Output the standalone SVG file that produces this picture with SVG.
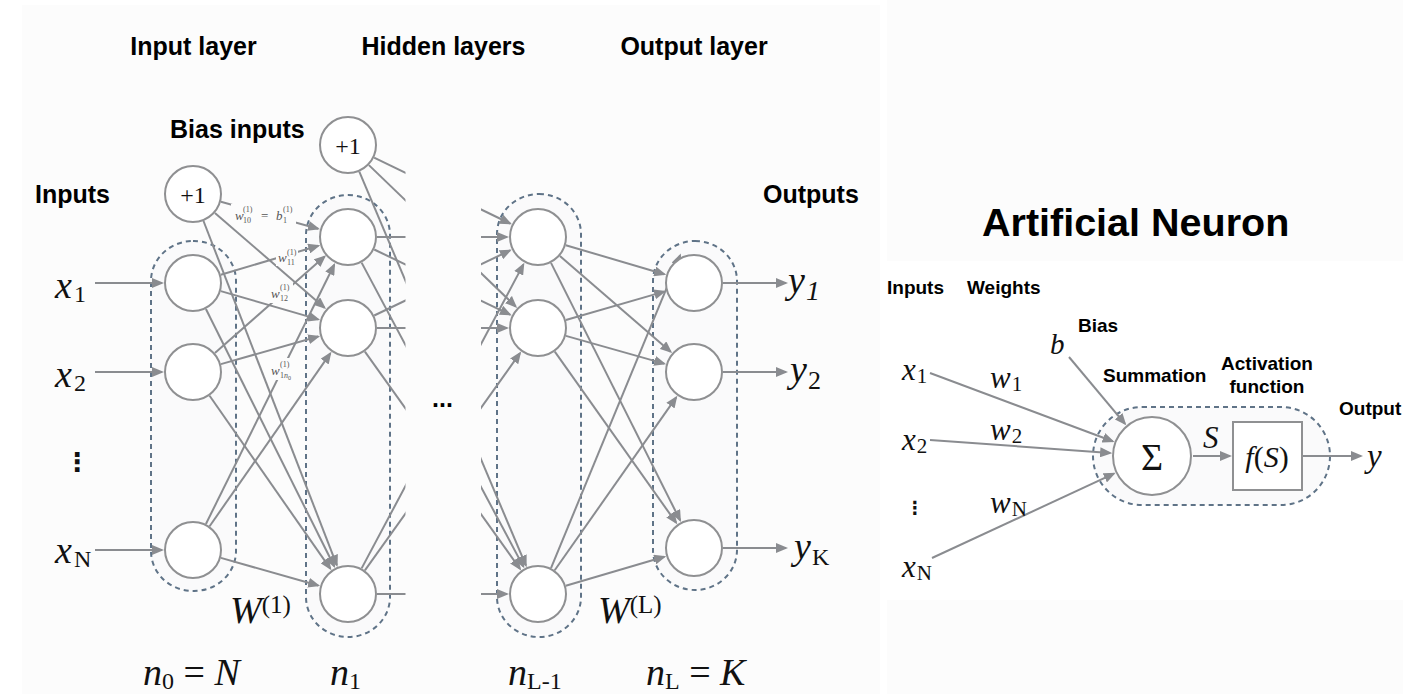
<svg xmlns="http://www.w3.org/2000/svg" width="1403" height="694" viewBox="0 0 1403 694">
  <style>
    .bg { fill: #fcfcfc; }
    .head { font-family: "Liberation Sans", Arial, sans-serif; font-weight: bold; fill: #000; }
    .math { font-family: "Liberation Serif", "Times New Roman", serif; fill: #111; }
    .it { font-style: italic; }
    .up { font-style: normal; }
    .wlab { font-family: "Liberation Serif", "Times New Roman", serif; fill: #555; }
    .edge { stroke: #8a8c90; stroke-width: 2; fill: none; }
    .arrow { marker-end: url(#arr); }
    .node { fill: #ffffff; stroke: #8f9092; stroke-width: 2; }
    .group { fill: #fafafb; stroke: #5f7387; stroke-width: 2; stroke-dasharray: 5 4; }
    .labbg { fill: #fcfcfc; }
  </style>
  <defs>
    <marker id="arr" viewBox="0 0 12 10" refX="10" refY="5" markerWidth="12" markerHeight="10" markerUnits="userSpaceOnUse" orient="auto">
      <path d="M0,0 L12,5 L0,10 z" fill="#8a8c90"/>
    </marker>
    <!-- hides the middle of the hidden-layer block (the elided layers) -->
    <clipPath id="gap">
      <rect x="0" y="0" width="405.5" height="694"/>
      <rect x="481" y="0" width="922" height="694"/>
    </clipPath>
  </defs>

  <!-- panel backgrounds -->
  <rect x="0" y="0" width="1403" height="694" fill="#ffffff"/>
  <rect class="bg" x="22" y="5" width="858" height="689"/>
  <rect class="bg" x="887" y="0" width="516" height="261"/>
  <rect class="bg" x="887" y="600" width="516" height="94"/>

  <!-- layer groupings (dashed capsules) -->
  <g id="layer-groups">
    <rect class="group" x="151" y="241" width="85" height="350" rx="42" ry="40"/>
    <rect class="group" x="306" y="195" width="84" height="442" rx="42" ry="40"/>
    <rect class="group" x="497" y="194" width="84" height="443" rx="42" ry="40"/>
    <rect class="group" x="653" y="241" width="84" height="349" rx="42" ry="40"/>
    <rect class="group" x="1093" y="407" width="237" height="98" rx="49" ry="49"/>
  </g>

  <!-- connectors -->
  <g id="connectors">
    <!-- inputs -> input layer -->
    <line class="edge arrow" x1="95" y1="283" x2="162" y2="283"/>
    <line class="edge arrow" x1="95" y1="372" x2="162" y2="372"/>
    <line class="edge arrow" x1="95" y1="550" x2="162" y2="550"/>

    <!-- input layer (+ bias) -> first hidden layer -->
    <line class="edge arrow" x1="220.9" y1="201.8" x2="318.1" y2="228.7"/>
    <line class="edge arrow" x1="214.9" y1="213.0" x2="324.5" y2="307.7"/>
    <line class="edge arrow" x1="203.5" y1="221.0" x2="336.8" y2="565.1"/>
    <line class="edge arrow" x1="220.8" y1="274.7" x2="318.3" y2="245.8"/>
    <line class="edge arrow" x1="220.8" y1="291.1" x2="318.2" y2="319.4"/>
    <line class="edge arrow" x1="205.9" y1="309.0" x2="334.2" y2="566.3"/>
    <line class="edge arrow" x1="214.9" y1="352.9" x2="324.6" y2="256.6"/>
    <line class="edge arrow" x1="220.9" y1="364.1" x2="318.2" y2="336.5"/>
    <line class="edge arrow" x1="209.6" y1="395.8" x2="330.3" y2="568.6"/>
    <line class="edge arrow" x1="205.9" y1="524.0" x2="334.2" y2="264.8"/>
    <line class="edge arrow" x1="209.6" y1="526.2" x2="330.3" y2="353.4"/>
    <line class="edge arrow" x1="220.9" y1="557.9" x2="318.2" y2="585.5"/>

    <!-- first hidden layer -> layer L-1 (middle cut away) -->
    <g clip-path="url(#gap)">
      <line class="edge arrow" x1="374.1" y1="157.6" x2="510.1" y2="223.5"/>
      <line class="edge arrow" x1="368.9" y1="165.1" x2="515.7" y2="306.5"/>
      <line class="edge arrow" x1="359.3" y1="171.7" x2="525.9" y2="565.4"/>
      <line class="edge arrow" x1="377" y1="237" x2="507" y2="237"/>
      <line class="edge arrow" x1="374.2" y1="249.5" x2="510.0" y2="314.6"/>
      <line class="edge arrow" x1="361.6" y1="262.6" x2="523.4" y2="566.6"/>
      <line class="edge arrow" x1="374.2" y1="315.5" x2="510.0" y2="250.4"/>
      <line class="edge arrow" x1="377" y1="328" x2="507" y2="328"/>
      <line class="edge arrow" x1="364.9" y1="351.6" x2="520.0" y2="568.8"/>
      <line class="edge arrow" x1="361.6" y1="568.4" x2="523.4" y2="264.4"/>
      <line class="edge arrow" x1="364.9" y1="570.4" x2="520.0" y2="353.2"/>
      <line class="edge arrow" x1="377" y1="594" x2="507" y2="594"/>
    </g>

    <!-- layer L-1 -> output layer -->
    <line class="edge arrow" x1="565.8" y1="245.2" x2="664.3" y2="274.2"/>
    <line class="edge arrow" x1="559.9" y1="256.0" x2="670.6" y2="351.7"/>
    <line class="edge arrow" x1="551.0" y1="262.9" x2="680.1" y2="520.3"/>
    <line class="edge arrow" x1="565.9" y1="320.0" x2="664.2" y2="291.6"/>
    <line class="edge arrow" x1="565.9" y1="335.9" x2="664.2" y2="363.6"/>
    <line class="edge arrow" x1="554.8" y1="351.7" x2="676.1" y2="522.7"/>
    <line class="edge arrow" x1="551.0" y1="568.1" x2="680.1" y2="255.3"/>
    <line class="edge arrow" x1="554.7" y1="570.3" x2="676.2" y2="397.4"/>
    <line class="edge arrow" x1="565.8" y1="585.8" x2="664.3" y2="556.8"/>

    <!-- output layer -> outputs -->
    <line class="edge arrow" x1="723" y1="283" x2="786" y2="283"/>
    <line class="edge arrow" x1="723" y1="372" x2="786" y2="372"/>
    <line class="edge arrow" x1="723" y1="548" x2="786" y2="548"/>

    <!-- single neuron -->
    <line class="edge arrow" x1="930" y1="373" x2="1112.7" y2="441.3"/>
    <line class="edge arrow" x1="930" y1="440" x2="1110.1" y2="453"/>
    <line class="edge arrow" x1="932" y1="558" x2="1113.9" y2="473.7"/>
    <line class="edge arrow" x1="1069" y1="357" x2="1125" y2="423.8"/>
    <line class="edge arrow" x1="1193" y1="456" x2="1230" y2="456"/>
    <line class="edge arrow" x1="1303" y1="456" x2="1361" y2="456"/>
  </g>

  <!-- weight labels (sit on their connectors) -->
  <g id="weight-labels">
    <rect class="labbg" x="231" y="204" width="65" height="21"/>
    <text class="wlab it" x="235" y="220" font-size="13">w</text>
    <text class="wlab" x="243" y="212" font-size="8">(1)</text>
    <text class="wlab" x="243" y="223" font-size="8">10</text>
    <text class="wlab" x="261" y="220" font-size="13">=</text>
    <text class="wlab it" x="276" y="220" font-size="13">b</text>
    <text class="wlab" x="283" y="212" font-size="8">(1)</text>
    <text class="wlab" x="283" y="223" font-size="8">1</text>

    <rect class="labbg" x="276" y="246" width="22" height="20"/>
    <text class="wlab it" x="278" y="262" font-size="13">w</text>
    <text class="wlab" x="287" y="255" font-size="8">(1)</text>
    <text class="wlab" x="287" y="265" font-size="8">11</text>

    <rect class="labbg" x="270" y="282" width="23" height="21"/>
    <text class="wlab it" x="271" y="298" font-size="13">w</text>
    <text class="wlab" x="280" y="290" font-size="8">(1)</text>
    <text class="wlab" x="280" y="301" font-size="8">12</text>

    <rect class="labbg" x="269" y="358" width="30" height="22"/>
    <text class="wlab it" x="271" y="375" font-size="13">w</text>
    <text class="wlab" x="280" y="367" font-size="8">(1)</text>
    <text class="wlab" x="280" y="378" font-size="8">1<tspan font-style="italic">n</tspan><tspan font-size="6" dy="1.5">0</tspan></text>
  </g>

  <!-- input layer -->
  <g id="bias-0">
    <circle class="node" cx="193" cy="194" r="28"/>
    <text class="math" x="193" y="203" font-size="24" text-anchor="middle">+1</text>
  </g>
  <g id="input-1"><circle class="node" cx="193" cy="283" r="28"/></g>
  <g id="input-2"><circle class="node" cx="193" cy="372" r="28"/></g>
  <g id="input-N"><circle class="node" cx="193" cy="550" r="28"/></g>

  <!-- first hidden layer -->
  <g id="bias-1">
    <circle class="node" cx="348" cy="145" r="28"/>
    <text class="math" x="348" y="154" font-size="24" text-anchor="middle">+1</text>
  </g>
  <g id="hidden1-1"><circle class="node" cx="348" cy="237" r="28"/></g>
  <g id="hidden1-2"><circle class="node" cx="348" cy="328" r="28"/></g>
  <g id="hidden1-3"><circle class="node" cx="348" cy="594" r="28"/></g>

  <!-- layer L-1 -->
  <g id="hiddenL-1"><circle class="node" cx="538" cy="237" r="28"/></g>
  <g id="hiddenL-2"><circle class="node" cx="538" cy="328" r="28"/></g>
  <g id="hiddenL-3"><circle class="node" cx="538" cy="594" r="28"/></g>

  <!-- output layer -->
  <g id="output-1"><circle class="node" cx="694" cy="283" r="28"/></g>
  <g id="output-2"><circle class="node" cx="694" cy="372" r="28"/></g>
  <g id="output-K"><circle class="node" cx="694" cy="548" r="28"/></g>

  <!-- single neuron -->
  <g id="summation">
    <circle class="node" cx="1152" cy="456" r="39"/>
    <text class="math" x="1152" y="470" font-size="38" text-anchor="middle">Σ</text>
  </g>
  <g id="activation">
    <rect class="node" x="1233" y="422" width="69" height="68"/>
    <text class="math" x="1267" y="467" font-size="30" text-anchor="middle"><tspan class="it">f</tspan>(<tspan class="it">S</tspan>)</text>
  </g>

  <!-- headings -->
  <g id="headings">
    <text class="head" x="193.5" y="55" font-size="25" text-anchor="middle">Input layer</text>
    <text class="head" x="443.5" y="55" font-size="25" text-anchor="middle">Hidden layers</text>
    <text class="head" x="694" y="55" font-size="25" text-anchor="middle">Output layer</text>
    <text class="head" x="170" y="138" font-size="25">Bias inputs</text>
    <text class="head" x="35" y="203" font-size="25">Inputs</text>
    <text class="head" x="763" y="203" font-size="25">Outputs</text>
    <text class="head" x="432" y="407" font-size="25">...</text>

    <text class="head" x="982" y="236" font-size="39.5">Artificial Neuron</text>
    <text class="head" x="887" y="294" font-size="19">Inputs</text>
    <text class="head" x="967" y="294" font-size="19">Weights</text>
    <text class="head" x="1078" y="332" font-size="19">Bias</text>
    <text class="head" x="1103" y="382" font-size="19">Summation</text>
    <text class="head" x="1267" y="370" font-size="19" text-anchor="middle">Activation</text>
    <text class="head" x="1267" y="393" font-size="19" text-anchor="middle">function</text>
    <text class="head" x="1339" y="415" font-size="19">Output</text>
  </g>

  <!-- network symbols -->
  <g id="symbols">
    <text class="math it" x="55" y="298" font-size="38">x<tspan class="up" font-size="24" dx="2" dy="4">1</tspan></text>
    <text class="math it" x="55" y="387" font-size="38">x<tspan class="up" font-size="24" dx="2" dy="4">2</tspan></text>
    <text class="math it" x="55" y="563" font-size="38">x<tspan class="up" font-size="24" dx="2" dy="4">N</tspan></text>
    <text x="77" y="471" font-size="26" font-weight="bold" font-family="DejaVu Sans, sans-serif" text-anchor="middle" fill="#111">⋮</text>

    <text class="math it" x="788" y="293" font-size="38">y<tspan font-size="28" dx="1" dy="7">1</tspan></text>
    <text class="math it" x="790" y="382" font-size="38">y<tspan class="up" font-size="26" dx="1" dy="7">2</tspan></text>
    <text class="math it" x="794" y="559" font-size="38">y<tspan class="up" font-size="24" dx="1" dy="6">K</tspan></text>

    <text class="math it" x="230" y="623" font-size="38">W<tspan class="up" font-size="25" dy="-10">(1)</tspan></text>
    <text class="math it" x="598" y="623" font-size="38">W<tspan class="up" font-size="25" dy="-10">(L)</tspan></text>

    <text class="math it" x="143" y="685" font-size="38">n<tspan class="up" font-size="24" dy="4">0</tspan><tspan class="up" dy="-4"> = </tspan>N</text>
    <text class="math it" x="330" y="685" font-size="38">n<tspan class="up" font-size="24" dy="4">1</tspan></text>
    <text class="math it" x="508" y="685" font-size="38">n<tspan class="up" font-size="24" dy="4">L-1</tspan></text>
    <text class="math it" x="646" y="685" font-size="38">n<tspan class="up" font-size="24" dy="4">L</tspan><tspan class="up" dy="-4"> = </tspan>K</text>

    <text class="math it" x="902" y="380" font-size="31">x<tspan class="up" font-size="21" dx="1" dy="3">1</tspan></text>
    <text class="math it" x="902" y="450" font-size="31">x<tspan class="up" font-size="21" dx="1" dy="3">2</tspan></text>
    <text x="915" y="514" font-size="18" font-weight="bold" font-family="DejaVu Sans, sans-serif" text-anchor="middle" fill="#111">⋮</text>
    <text class="math it" x="902" y="577" font-size="31">x<tspan class="up" font-size="21" dx="1" dy="3">N</tspan></text>

    <text class="math it" x="990" y="388" font-size="31">w<tspan class="up" font-size="21" dx="1" dy="3">1</tspan></text>
    <text class="math it" x="990" y="440" font-size="31">w<tspan class="up" font-size="21" dx="1" dy="3">2</tspan></text>
    <text class="math it" x="990" y="513" font-size="31">w<tspan class="up" font-size="21" dx="1" dy="3">N</tspan></text>

    <text class="math it" x="1050" y="354" font-size="29">b</text>
    <text class="math it" x="1203" y="448" font-size="31">S</text>
    <text class="math it" x="1367" y="467" font-size="33">y</text>
  </g>
</svg>
